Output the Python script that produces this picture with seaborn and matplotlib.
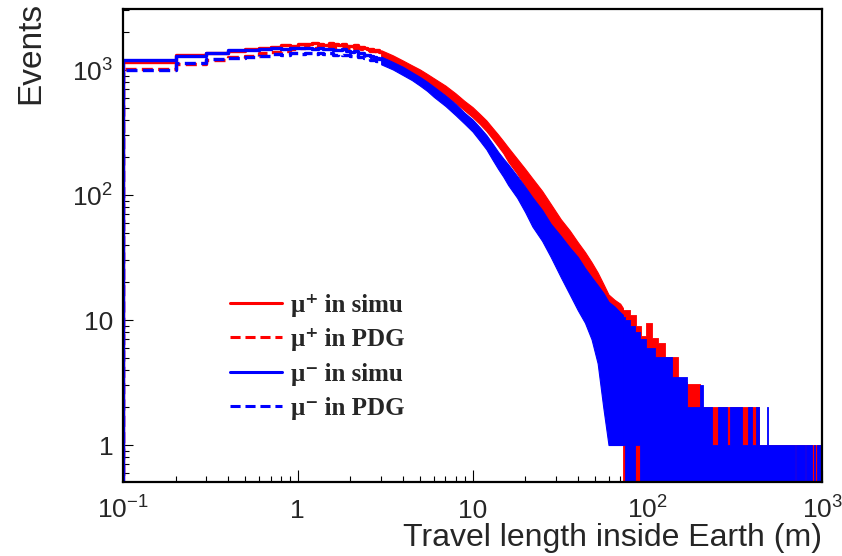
import numpy as np
import pandas as pd
import matplotlib
matplotlib.use("Agg")
import matplotlib.pyplot as plt
import seaborn as sns
from matplotlib.lines import Line2D
from matplotlib.ticker import LogLocator, NullFormatter

# 0.1 m wide bins where the four histograms can still be told apart
bin_edges = [0.1, 0.2, 0.3, 0.4, 0.5, 0.6, 0.7, 0.8, 0.9, 1.0,
             1.1, 1.2, 1.3, 1.4, 1.5, 1.6, 1.7, 1.8, 1.9, 2.0,
             2.1, 2.2, 2.3, 2.4, 2.5, 2.6, 2.7, 2.8, 2.9, 3.0]

mu_plus_simu = [1150, 1320, 1380, 1420, 1470, 1500, 1540, 1590, 1560, 1620,
                1600, 1640, 1610, 1590, 1630, 1600, 1580, 1620, 1570, 1560,
                1580, 1530, 1540, 1500, 1480, 1470, 1440, 1450, 1400]
mu_plus_pdg = [1020, 1110, 1195, 1260, 1300, 1360, 1400, 1430, 1480, 1500,
               1520, 1490, 1550, 1530, 1560, 1520, 1540, 1550, 1510, 1530,
               1500, 1490, 1470, 1480, 1440, 1420, 1410, 1380, 1360]
mu_minus_simu = [1200, 1295, 1360, 1445, 1440, 1470, 1500, 1480, 1510, 1490,
                 1500, 1470, 1490, 1460, 1480, 1450, 1440, 1460, 1410, 1400,
                 1410, 1370, 1360, 1330, 1320, 1290, 1280, 1250, 1230]
mu_minus_pdg = [1000, 1130, 1215, 1250, 1280, 1300, 1340, 1320, 1360, 1350,
                1380, 1340, 1370, 1350, 1360, 1330, 1350, 1320, 1330, 1300,
                1310, 1280, 1270, 1250, 1240, 1210, 1200, 1170, 1150]

# 3 m - 72.5 m: too many noisy bins, keep the min / max envelope per colour
band_x = [3.0, 3.5, 4.0, 4.5, 5.0, 5.5, 6.0, 7.0, 8.0, 9.0,
          10, 11, 12, 13, 14, 15, 16, 18, 20, 22,
          25, 28, 32, 36, 40, 44, 48, 52, 56, 60,
          65, 70, 72.5]
red_low = [1290, 1160, 1050, 950, 870, 800, 730, 630, 545, 475,
           420, 370, 325, 282, 246, 216, 185, 148, 117, 94,
           72, 55, 40, 30, 23, 17, 13, 10, 7, 4,
           2, 1.2, 1.0]
red_high = [1440, 1310, 1190, 1090, 1010, 930, 860, 750, 650, 565,
            505, 445, 395, 345, 305, 270, 240, 195, 162, 136,
            108, 85, 64, 52, 42, 35, 29, 24, 19.5, 16,
            14.5, 13.5, 12.5]
blue_low = [1110, 1010, 910, 830, 750, 680, 610, 515, 435, 372,
            322, 272, 232, 192, 162, 140, 120, 95, 73, 56,
            43, 32, 22, 16, 12, 9.5, 7, 4.5, 2, 1.0,
            1.0, 1.0, 1.0]
blue_high = [1280, 1160, 1060, 960, 880, 805, 735, 625, 535, 455,
             402, 348, 302, 258, 222, 196, 176, 142, 116, 96,
             76, 59, 47, 38, 32, 26, 22, 19, 16.5, 14,
             12.8, 11.5, 11]

# tail: few counts per bin, step envelope (0.1 = empty bins, below the axis)
red_tail_edges = [72.5, 80, 86, 92, 98, 106, 115, 127, 150, 168,
                  200, 235, 433, 1000]
red_tail_low = [0.1, 0.1, 0.1, 0.1, 0.1, 0.1, 0.1, 0.1, 0.1, 0.1,
                0.1, 0.1, 0.1]
red_tail_high = [12, 11, 9, 7.5, 9.5, 7.2, 6.5, 5.1, 3.2, 3.1,
                 2.0, 2.0, 1.0]
blue_tail_edges = [72.5, 75, 80, 85, 91, 98, 110, 138, 168, 200,
                   207, 235, 255, 285, 298, 348, 379, 396, 418, 433,
                   483, 493, 700, 710, 802, 810, 880, 898, 915, 940, 1000]
blue_tail_low = [1.0, 0.1, 0.1, 1.0, 0.1, 0.1, 0.1, 0.1, 0.1, 0.1,
                 0.1, 0.1, 0.1, 0.1, 0.1, 0.1, 0.1, 0.1, 0.1, 0.1,
                 0.1, 0.1, 0.1, 0.1, 0.1, 0.1, 0.1, 0.1, 0.1, 0.1]
blue_tail_high = [10.5, 10, 9, 8, 7, 6, 5.1, 3.5, 2.0, 3.0,
                  2.0, 1.0, 2.0, 1.0, 2.0, 1.0, 2.0, 1.0, 2.0, 1.0,
                  2.0, 1.0, 0.1, 1.0, 0.1, 1.0, 0.1, 1.0, 0.1, 1.0]

labels = ["μ⁺ in simu", "μ⁺ in PDG", "μ⁻ in simu", "μ⁻ in PDG"]
colors = ["#ff0000", "#ff0000", "#0000ff", "#0000ff"]
dash = (3.3, 1.6)

sns.set_style("ticks")
plt.rcParams["font.family"] = ["Liberation Sans", "DejaVu Sans"]
plt.rcParams["mathtext.fontset"] = "custom"
plt.rcParams["mathtext.rm"] = "Liberation Sans"
plt.rcParams["mathtext.it"] = "Liberation Sans:italic"
plt.rcParams["mathtext.bf"] = "Liberation Sans:bold"

# long table, one step curve per series (starts from empty so the left edge is drawn)
frames = []
for name, vals in zip(labels, [mu_plus_simu, mu_plus_pdg, mu_minus_simu, mu_minus_pdg]):
    frames.append(pd.DataFrame({
        "length": [bin_edges[0]] + bin_edges,
        "events": [0.1] + vals + [vals[-1]],
        "series": name,
    }))
df = pd.concat(frames, ignore_index=True)

fig = plt.figure(figsize=(8.42, 5.56), dpi=100)
ax = fig.add_axes([0.1461, 0.1331, 0.8302, 0.8507])

sns.lineplot(data=df, x="length", y="events", hue="series", style="series",
             hue_order=labels, style_order=labels,
             palette=dict(zip(labels, colors)),
             dashes={labels[0]: "", labels[1]: dash, labels[2]: "", labels[3]: dash},
             estimator=None, sort=False, drawstyle="steps-post",
             lw=2.4, legend=False, ax=ax)

ax.fill_between(band_x, red_low, red_high, color="#ff0000", lw=0.8, zorder=2.05)
ax.fill_between(red_tail_edges, red_tail_low + [red_tail_low[-1]],
                red_tail_high + [red_tail_high[-1]],
                step="post", color="#ff0000", lw=0.6, zorder=2.05)
ax.fill_between(band_x, blue_low, blue_high, color="#0000ff", lw=0.8, zorder=2.1)
ax.fill_between(blue_tail_edges, blue_tail_low + [blue_tail_low[-1]],
                blue_tail_high + [blue_tail_high[-1]],
                step="post", color="#0000ff", lw=0.6, zorder=2.1)

ax.set_xscale("log")
ax.set_yscale("log")
ax.set_xlim(0.1, 1000)
ax.set_ylim(0.506, 3076)

ax.set_xticks([0.1, 1, 10, 100, 1000],
              [r"$10^{-1}$", "1", "10", r"$10^{2}$", r"$10^{3}$"])
ax.set_yticks([1, 10, 100, 1000], ["1", "10", r"$10^{2}$", r"$10^{3}$"])
for axis in (ax.xaxis, ax.yaxis):
    axis.set_minor_locator(LogLocator(base=10, subs=np.arange(2, 10)))
    axis.set_minor_formatter(NullFormatter())
for lab in ax.get_xticklabels():
    lab.set_va("baseline")

ax.tick_params(which="both", direction="in", top=False, right=False,
               color="black", width=0.8)
ax.tick_params(axis="x", which="major", length=8.5, labelsize=19, pad=26)
ax.tick_params(axis="x", which="minor", length=4)
ax.tick_params(axis="y", which="major", length=7, labelsize=19, pad=7)
ax.tick_params(axis="y", which="minor", length=4)
for s in ax.spines.values():
    s.set_linewidth(1.6)
    s.set_color("black")

ax.set_xlabel("Travel length inside Earth (m)", fontsize=23)
ax.xaxis.set_label_coords(1.0, -0.087)
ax.xaxis.label.set_ha("right")
ax.set_ylabel("Events", fontsize=24)
ax.yaxis.set_label_coords(-0.11, 1.015)
ax.yaxis.label.set_ha("right")

handles = [Line2D([], [], color=colors[0], lw=2.2),
           Line2D([], [], color=colors[1], lw=2.2, dashes=dash),
           Line2D([], [], color=colors[2], lw=2.2),
           Line2D([], [], color=colors[3], lw=2.2, dashes=dash)]
ax.legend(handles, labels, loc="upper left", bbox_to_anchor=(0.153, 0.398),
          frameon=False, borderpad=0, borderaxespad=0, handlelength=2.08,
          handletextpad=0.35, labelspacing=0.46,
          prop={"family": ["Liberation Serif", "DejaVu Serif"],
                "weight": "bold", "size": 18})

fig.savefig("out.png", dpi=100)
